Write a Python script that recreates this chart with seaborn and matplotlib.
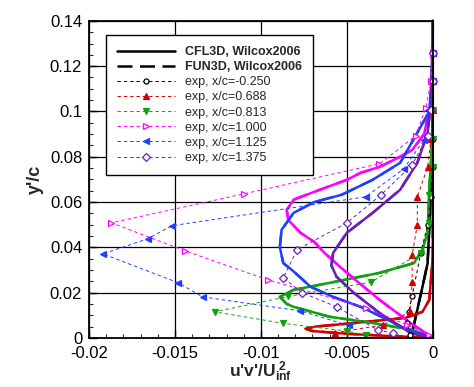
import numpy as np
import pandas as pd
import matplotlib
matplotlib.use("Agg")
import matplotlib.pyplot as plt
import seaborn as sns
from matplotlib.ticker import MultipleLocator

sns.set_theme(style="white")
plt.rcParams['font.family'] = ['Liberation Sans', 'DejaVu Sans']
plt.rcParams['mathtext.fontset'] = 'custom'
plt.rcParams['mathtext.rm'] = 'Liberation Sans:bold'
plt.rcParams['mathtext.it'] = 'Liberation Sans:bold'
plt.rcParams['mathtext.bf'] = 'Liberation Sans:bold'

# ---------------- data ----------------
stations = ["-0.250", "0.688", "0.813", "1.000", "1.125", "1.375"]
colors = ["#000000", "#d40000", "#10a010", "#ff00ff", "#2040ff", "#6a1fb8"]
markers = ["o", "^", "v", ">", "<", "D"]

# experiments (y'/c, u'v'/Uinf^2)
exp_y_m0250 = [0.0013, 0.0066, 0.0115, 0.0185, 0.0375, 0.0499, 0.0623, 0.0755, 0.088, 0.1007, 0.1135, 0.126]
exp_x_m0250 = [-0.0013, -0.0015, -0.0014, -0.0012, -0.0007, -0.0003, -0.0001, 0.0, 0.0, 0.0, 0.0, 0.0]
exp_y_0688 = [0.0022, 0.0057, 0.0115, 0.0247, 0.0367, 0.0499, 0.0623, 0.0755, 0.088, 0.1007, 0.1135, 0.126]
exp_x_0688 = [-0.0057, -0.0029, -0.0013, -0.0012, -0.0012, -0.0009, -0.0009, -0.0003, -0.0001, 0.0, 0.0, 0.0]
exp_y_0813 = [0.0013, 0.0030, 0.0064, 0.0115, 0.0183, 0.0246, 0.0375, 0.0508, 0.0632, 0.0755, 0.088, 0.1007, 0.1135, 0.126]
exp_x_0813 = [-0.0039, -0.0050, -0.0087, -0.0127, -0.0084, -0.0036, -0.0007, -0.0002, -0.0002, 0.0, 0.0, 0.0, 0.0, 0.0]
exp_y_1000 = [0.0013, 0.0057, 0.0133, 0.0256, 0.0384, 0.0508, 0.0636, 0.0769, 0.0892, 0.1016, 0.1135, 0.126]
exp_x_1000 = [-0.0002, -0.0015, -0.0039, -0.0096, -0.0144, -0.0187, -0.0110, -0.0031, -0.0010, -0.0004, -0.0001, 0.0]
exp_y_1125 = [0.0055, 0.0119, 0.0181, 0.0243, 0.0371, 0.0437, 0.0495, 0.0623, 0.0746, 0.0875, 0.1007, 0.1135, 0.126]
exp_x_1125 = [-0.0049, -0.0077, -0.0134, -0.0148, -0.0192, -0.0166, -0.0152, -0.0039, -0.0017, -0.0005, -0.0002, 0.0, 0.0]
exp_y_1375 = [0.0020, 0.0035, 0.0137, 0.0199, 0.0265, 0.0389, 0.0508, 0.0632, 0.0764, 0.0890, 0.1007, 0.1135, 0.126]
exp_x_1375 = [-0.0023, -0.0032, -0.0056, -0.0076, -0.0087, -0.0079, -0.0050, -0.0030, -0.0012, -0.0003, -0.0001, 0.0, 0.0]

# CFD (CFL3D and FUN3D, Wilcox2006)
cfd_y_m0250 = [0.14, 0.10, 0.07, 0.049, 0.033, 0.0225, 0.0124, 0.0022, 0.0003]
cfd_x_m0250 = [0.0, 0.0, -0.0001, -0.0002, -0.0003, -0.0006, -0.0009, -0.0012, -0.0012]
cfd_y_0688 = [0.14, 0.06, 0.0358, 0.0168, 0.0115, 0.0088, 0.0066, 0.0050, 0.0040, 0.0030, 0.0018, 0.0008, 0.0]
cfd_x_0688 = [0.0, 0.0, 0.0, -0.0002, -0.0006, -0.0016, -0.0045, -0.0068, -0.0074, -0.0070, -0.0050, -0.0025, 0.0]
cfd_y_0813 = [0.14, 0.09, 0.0667, 0.0464, 0.0389, 0.033, 0.0287, 0.0243, 0.0212, 0.0181, 0.0150, 0.0137, 0.0093, 0.0066, 0.0035, 0.0]
cfd_x_0813 = [0.0, 0.0, -0.0002, -0.0003, -0.0006, -0.0011, -0.0031, -0.0060, -0.0081, -0.0089, -0.0085, -0.0081, -0.0060, -0.0035, -0.0012, 0.0]
cfd_y_1000 = [0.14, 0.12, 0.105, 0.09, 0.083, 0.080, 0.0755, 0.0729, 0.0698, 0.0645, 0.061, 0.0565, 0.052, 0.0464, 0.0424, 0.0375, 0.0314, 0.0256, 0.0168, 0.0066, 0.0]
cfd_x_1000 = [0.0, 0.0, -0.0001, -0.0005, -0.0012, -0.0019, -0.0031, -0.0042, -0.0050, -0.0069, -0.0081, -0.0085, -0.0084, -0.0077, -0.0069, -0.0063, -0.0054, -0.0045, -0.0031, -0.0013, 0.0]
cfd_y_1125 = [0.14, 0.12, 0.10, 0.0866, 0.0773, 0.0698, 0.0632, 0.060, 0.0552, 0.0477, 0.040, 0.033, 0.030, 0.0225, 0.0181, 0.0137, 0.0090, 0.0044, 0.0]
cfd_x_1125 = [0.0, 0.0, -0.0002, -0.0012, -0.0019, -0.0035, -0.0053, -0.0069, -0.0081, -0.0088, -0.0089, -0.0087, -0.0082, -0.0071, -0.0058, -0.0042, -0.0029, -0.0017, 0.0]
cfd_y_1375 = [0.14, 0.105, 0.0905, 0.0773, 0.0654, 0.0552, 0.0464, 0.0375, 0.032, 0.027, 0.0199, 0.011, 0.0022, 0.0]
cfd_x_1375 = [0.0, -0.0001, -0.0003, -0.0009, -0.0019, -0.0035, -0.0050, -0.0058, -0.0059, -0.0056, -0.0046, -0.0031, -0.0013, 0.0]

exp_sets = [(exp_x_m0250, exp_y_m0250), (exp_x_0688, exp_y_0688), (exp_x_0813, exp_y_0813),
            (exp_x_1000, exp_y_1000), (exp_x_1125, exp_y_1125), (exp_x_1375, exp_y_1375)]
cfd_sets = [(cfd_x_m0250, cfd_y_m0250), (cfd_x_0688, cfd_y_0688), (cfd_x_0813, cfd_y_0813),
            (cfd_x_1000, cfd_y_1000), (cfd_x_1125, cfd_y_1125), (cfd_x_1375, cfd_y_1375)]

x_ticks = [-0.02, -0.015, -0.01, -0.005, 0.0]
x_ticklabels = ["-0.02", "-0.015", "-0.01", "-0.005", "0"]
y_ticks = [0, 0.02, 0.04, 0.06, 0.08, 0.1, 0.12, 0.14]
y_ticklabels = ["0", "0.02", "0.04", "0.06", "0.08", "0.1", "0.12", "0.14"]

# ---------------- figure ----------------
fig = plt.figure(figsize=(4.74, 3.87), dpi=100)
ax = fig.add_axes([0.188, 0.127, 0.725, 0.819])

ax.set_axisbelow(True)
ax.grid(True, which="major", color="black", linewidth=0.9)

# FUN3D dashed (underneath)
for (xs, ys), c in zip(cfd_sets, colors):
    df = pd.DataFrame({"x": xs, "y": ys})
    sns.lineplot(data=df, x="x", y="y", sort=False, estimator=None, ax=ax,
                 color=c, linewidth=1.8, linestyle=(0, (6, 3)), clip_on=False)
h_fun = ax.lines[0]
# CFL3D solid
for (xs, ys), c in zip(cfd_sets, colors):
    df = pd.DataFrame({"x": xs, "y": ys})
    sns.lineplot(data=df, x="x", y="y", sort=False, estimator=None, ax=ax,
                 color=c, linewidth=1.8, linestyle="-", clip_on=False)
h_cfl = ax.lines[len(cfd_sets)]

exp_handles = []
hollow = [True, False, False, True, False, True]
for (xs, ys), c, m, hol in zip(exp_sets, colors, markers, hollow):
    df = pd.DataFrame({"x": xs, "y": ys})
    n0 = len(ax.lines)
    sns.lineplot(data=df, x="x", y="y", sort=False, estimator=None, ax=ax,
                 color=c, linewidth=0.7, linestyle=(0, (3.5, 3)), marker=m,
                 markersize=4.2 if m != "o" else 3.6,
                 markerfacecolor="white" if hol else c, markeredgecolor=c,
                 markeredgewidth=0.9, clip_on=False)
    exp_handles.append(ax.lines[n0])

ax.set_xlim(-0.02, 0.0)
ax.set_ylim(0.0, 0.14)
ax.set_xticks(x_ticks)
ax.set_xticklabels(x_ticklabels)
ax.set_yticks(y_ticks)
ax.set_yticklabels(y_ticklabels)
ax.xaxis.set_minor_locator(MultipleLocator(0.001))
ax.yaxis.set_minor_locator(MultipleLocator(0.005))
ax.tick_params(axis="both", which="major", direction="in", length=6, width=1,
               labelsize=12, colors="black", bottom=True, left=True)
ax.tick_params(axis="x", which="major", pad=6)
ax.tick_params(axis="y", which="major", pad=5)
ax.tick_params(axis="both", which="minor", direction="in", length=3, width=0.8,
               bottom=True, left=True)
for s in ax.spines.values():
    s.set_color("black")
    s.set_linewidth(1.3)

ax.set_xlabel("u'v'/U$_{inf}^{\\ 2}$", fontsize=12.5, fontweight="bold", labelpad=-1)
ax.set_ylabel("y'/c", fontsize=13, fontweight="bold", labelpad=4)

labels = ["CFL3D, Wilcox2006", "FUN3D, Wilcox2006"] + ["exp, x/c=" + s for s in stations]
leg = ax.legend([h_cfl, h_fun] + exp_handles, labels,
                loc="upper left", bbox_to_anchor=(0.049, 0.956), fontsize=9,
                frameon=True, fancybox=False, edgecolor="black", framealpha=1,
                handlelength=4.6, handletextpad=0.8, labelspacing=0.25,
                borderpad=0.9, borderaxespad=0.0)
leg.get_frame().set_linewidth(1.0)
for i, t in enumerate(leg.get_texts()):
    if i < 2:
        t.set_fontweight("bold")

fig.savefig("out.png", dpi=100, facecolor="white")
